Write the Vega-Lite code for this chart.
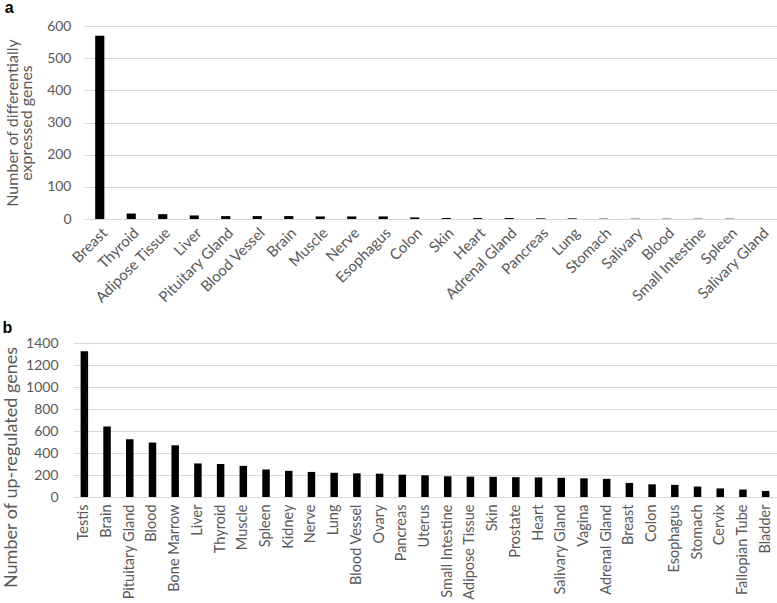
{
  "$schema": "https://vega.github.io/schema/vega-lite/v6.json",
  "padding": {"left": 2, "top": 0, "right": 0, "bottom": 0},
  "background": "white",
  "spacing": 14,
  "config": {
    "font": "Lato",
    "view": {"stroke": null},
    "title": {"anchor": "start", "fontWeight": "bold", "fontSize": 16, "color": "#000000", "font": "Liberation Sans"},
    "axis": {"labelColor": "#595959", "titleColor": "#595959", "titleFontWeight": "normal", "gridColor": "#d9d9d9", "domain": false, "ticks": false, "labelFont": "Lato", "titleFont": "Lato"}
  },
  "vconcat": [
    {
      "title": {"text": "a", "offset": 3},
      "width": 704,
      "height": 193,
      "data": {"values": [
        {"tissue": "Breast", "n": 570},
        {"tissue": "Thyroid", "n": 17},
        {"tissue": "Adipose Tissue", "n": 15},
        {"tissue": "Liver", "n": 11},
        {"tissue": "Pituitary Gland", "n": 9},
        {"tissue": "Blood Vessel", "n": 9},
        {"tissue": "Brain", "n": 9},
        {"tissue": "Muscle", "n": 8},
        {"tissue": "Nerve", "n": 8},
        {"tissue": "Esophagus", "n": 8},
        {"tissue": "Colon", "n": 5},
        {"tissue": "Skin", "n": 3},
        {"tissue": "Heart", "n": 3},
        {"tissue": "Adrenal Gland", "n": 3},
        {"tissue": "Pancreas", "n": 2},
        {"tissue": "Lung", "n": 2},
        {"tissue": "Stomach", "n": 1},
        {"tissue": "Salivary", "n": 1},
        {"tissue": "Blood", "n": 1},
        {"tissue": "Small Intestine", "n": 1},
        {"tissue": "Spleen", "n": 1},
        {"tissue": "Salivary Gland", "n": 0}
      ]},
      "mark": {"type": "bar", "color": "#000000", "width": {"band": 0.29}},
      "encoding": {
        "x": {"field": "tissue", "type": "nominal", "sort": null,
              "scale": {"paddingInner": 0, "paddingOuter": 0, "range": [11, 704]},
              "axis": {"title": null, "labelAngle": -45, "labelFontSize": 15, "labelPadding": 6, "grid": false}},
        "y": {"field": "n", "type": "quantitative",
              "scale": {"domain": [0, 600], "nice": false},
              "axis": {"title": ["Number of differentially", "expressed genes"], "format": "d", "titleFontSize": 16, "titleLineHeight": 14, "titlePadding": 12, "labelFontSize": 14, "labelPadding": 2, "values": [0, 100, 200, 300, 400, 500, 600]}}
      }
    },
    {
      "title": {"text": "b", "offset": 0},
      "width": 704,
      "height": 154,
      "data": {"values": [
        {"tissue": "Testis", "n": 1325},
        {"tissue": "Brain", "n": 640},
        {"tissue": "Pituitary Gland", "n": 525},
        {"tissue": "Blood", "n": 495},
        {"tissue": "Bone Marrow", "n": 470},
        {"tissue": "Liver", "n": 305},
        {"tissue": "Thyroid", "n": 300},
        {"tissue": "Muscle", "n": 283},
        {"tissue": "Spleen", "n": 250},
        {"tissue": "Kidney", "n": 238},
        {"tissue": "Nerve", "n": 228},
        {"tissue": "Lung", "n": 220},
        {"tissue": "Blood Vessel", "n": 215},
        {"tissue": "Ovary", "n": 212},
        {"tissue": "Pancreas", "n": 203},
        {"tissue": "Uterus", "n": 197},
        {"tissue": "Small Intestine", "n": 188},
        {"tissue": "Adipose Tissue", "n": 185},
        {"tissue": "Skin", "n": 183},
        {"tissue": "Prostate", "n": 180},
        {"tissue": "Heart", "n": 178},
        {"tissue": "Salivary Gland", "n": 175},
        {"tissue": "Vagina", "n": 170},
        {"tissue": "Adrenal Gland", "n": 165},
        {"tissue": "Breast", "n": 128},
        {"tissue": "Colon", "n": 115},
        {"tissue": "Esophagus", "n": 110},
        {"tissue": "Stomach", "n": 95},
        {"tissue": "Cervix", "n": 78},
        {"tissue": "Fallopian Tube", "n": 68},
        {"tissue": "Bladder", "n": 55}
      ]},
      "mark": {"type": "bar", "color": "#000000", "width": {"band": 0.33}},
      "encoding": {
        "x": {"field": "tissue", "type": "nominal", "sort": null,
              "scale": {"paddingInner": 0, "paddingOuter": 0},
              "axis": {"title": null, "labelAngle": -90, "labelFontSize": 14.5, "labelPadding": 7, "grid": false}},
        "y": {"field": "n", "type": "quantitative",
              "scale": {"domain": [0, 1400], "nice": false},
              "axis": {"title": "Number of up-regulated genes", "format": "d", "titleFontSize": 18, "titlePadding": 5, "titleY": 124, "labelFontSize": 14, "labelPadding": 15, "values": [0, 200, 400, 600, 800, 1000, 1200, 1400]}}
      }
    }
  ]
}
